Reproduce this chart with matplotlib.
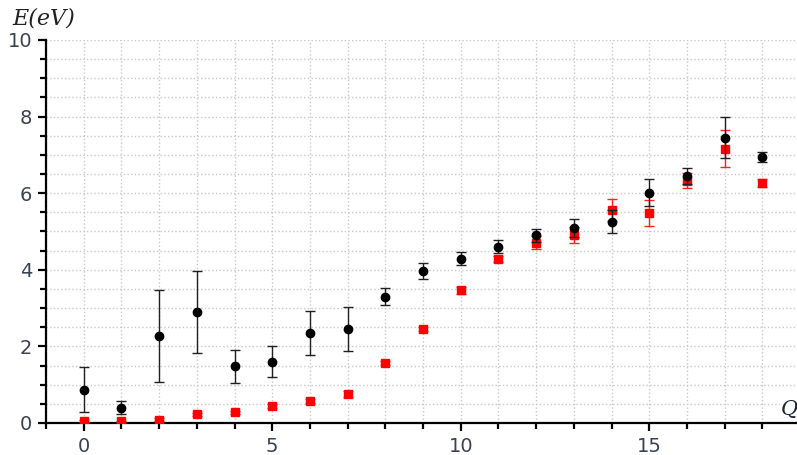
import matplotlib
matplotlib.use("Agg")
import matplotlib.pyplot as plt
from matplotlib.ticker import MultipleLocator

q = list(range(19))

# black series (circles)
e_black = [0.87, 0.40, 2.28, 2.89, 1.48, 1.60, 2.35, 2.45, 3.30, 3.98,
           4.29, 4.60, 4.90, 5.09, 5.26, 6.01, 6.45, 7.45, 6.95]
err_black = [0.58, 0.17, 1.20, 1.07, 0.43, 0.40, 0.57, 0.58, 0.23, 0.21,
             0.17, 0.17, 0.17, 0.23, 0.29, 0.35, 0.20, 0.54, 0.13]

# red series (squares)
e_red = [0.06, 0.04, 0.09, 0.23, 0.28, 0.44, 0.57, 0.76, 1.56, 2.46,
         3.46, 4.28, 4.71, 4.91, 5.56, 5.48, 6.33, 7.16, 6.26]
err_red = [0.03, 0.02, 0.03, 0.04, 0.04, 0.05, 0.05, 0.07, 0.05, 0.05,
           0.08, 0.07, 0.17, 0.20, 0.28, 0.33, 0.20, 0.48, 0.10]

fig = plt.figure(figsize=(7.97, 4.55), dpi=100)
ax = fig.add_axes([46/797, 32/455, 1 - 46/797, 383/455])

ax.errorbar(q, e_red, yerr=err_red, fmt='s', color='#ff0000', ms=5.5,
            ecolor='#ff2020', elinewidth=1, capsize=3.5, capthick=1, zorder=3)
ax.errorbar(q, e_black, yerr=err_black, fmt='o', color='black', ms=6,
            ecolor='#202020', elinewidth=1, capsize=3.5, capthick=1, zorder=4)

ax.set_xlim(-1, 18.92)
ax.set_ylim(0, 10)
ax.xaxis.set_major_locator(MultipleLocator(5))
ax.xaxis.set_minor_locator(MultipleLocator(1))
ax.yaxis.set_major_locator(MultipleLocator(2))
ax.yaxis.set_minor_locator(MultipleLocator(0.5))

ax.grid(True, which='both', linestyle=':', color='#c8c8c8', linewidth=1)
ax.set_axisbelow(True)

for s in ['top', 'right']:
    ax.spines[s].set_visible(False)
for s in ['left', 'bottom']:
    ax.spines[s].set_linewidth(1.6)

ax.tick_params(which='major', direction='out', length=6, width=1.6,
               labelsize=14, labelcolor='#3a4250', pad=4)
ax.tick_params(which='minor', direction='out', length=4, width=1.6)

fig.text(12/797, 1 - 18/455, 'E(eV)', fontsize=16, style='italic',
         family='DejaVu Serif', va='center', ha='left', color='#222222')
ax.text(18.5, 0.1, 'Q', fontsize=15, style='italic', family='DejaVu Serif',
        ha='left', va='bottom', clip_on=False, color='#1a2530',
        bbox=dict(facecolor='white', edgecolor='none', pad=1))

fig.savefig('out.png', dpi=100)
